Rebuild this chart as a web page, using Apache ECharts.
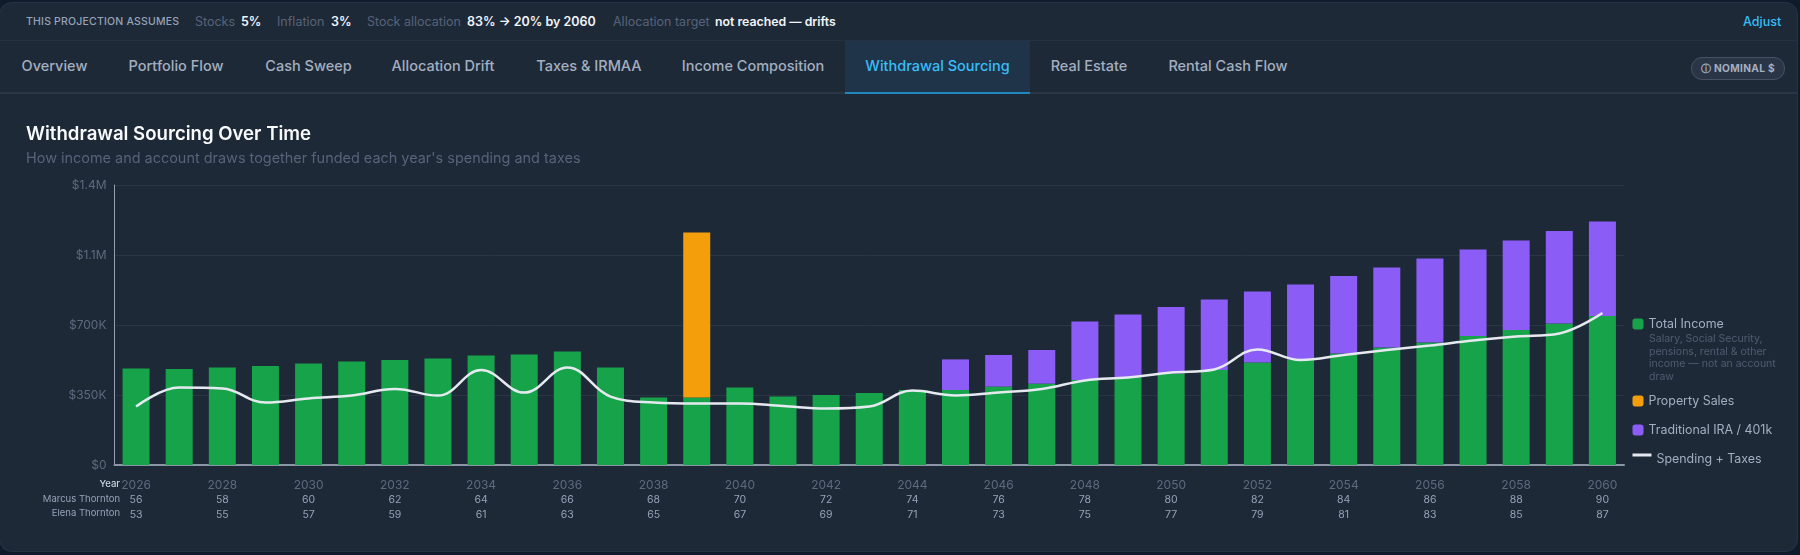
<!DOCTYPE html>
<html>
<head>
<meta charset="utf-8">
<title>Withdrawal Sourcing</title>
<script src="https://cdn.jsdelivr.net/npm/echarts@6/dist/echarts.min.js"></script>
<style>
  html, body { margin: 0; padding: 0; width: 1800px; height: 555px; overflow: hidden; background: #0f1a2b; font-family: Inter, sans-serif; }
  .card { position: absolute; left: 0; top: 3px; width: 1797px; height: 548px; background: #1e2937; border-radius: 12px; overflow: hidden; box-shadow: 0 0 0 1px #263244; }
  .assume { position: absolute; left: 0; top: 0; width: 100%; height: 37px; border-bottom: 1px solid #263243; font-size: 12.5px; line-height: 37px; white-space: nowrap; }
  .assume span { position: absolute; top: 0; }
  .assume .head { font-size: 10.5px; font-weight: 500; color: #94a3b8; letter-spacing: .2px; }
  .assume .lab { color: #56637a; }
  .assume .val { color: #f1f5f9; font-weight: 600; }
  .assume .adjust { color: #38bdf8; font-weight: 500; }
  .tabs { position: absolute; left: 0; top: 38px; width: 100%; height: 51px; border-bottom: 2px solid #2a3545; }
  .tab { position: absolute; top: 0; height: 51px; line-height: 50px; font-size: 14.5px; font-weight: 500; color: #a3afc0; text-align: center; }
  .tab.active { color: #38bdf8; background: #1f3448; height: 51px; border-bottom: 2px solid #2187bd; }
  .pill { position: absolute; left: 1691px; top: 16px; width: 92px; height: 21px; border: 1px solid #465264; border-radius: 11px; background: #2a3646; color: #a3afc0; font-size: 10.2px; font-weight: 700; line-height: 21px; text-align: center; letter-spacing: .3px; }
  h1 { position: absolute; left: 26px; top: 121px; margin: 0; font-size: 18.6px; line-height: 24px; font-weight: 600; color: #f8fafc; }
  .sub { position: absolute; left: 26px; top: 149px; font-size: 14.45px; line-height: 18px; color: #56637a; }
  #chart { position: absolute; left: 0; top: 0; width: 1800px; height: 555px; }
</style>
</head>
<body>
<div class="card">
  <div class="assume">
    <span class="head" style="left:26px">THIS PROJECTION ASSUMES</span>
    <span class="lab" style="left:195px">Stocks</span><span class="val" style="left:241px">5%</span>
    <span class="lab" style="left:277px">Inflation</span><span class="val" style="left:331px">3%</span>
    <span class="lab" style="left:367px">Stock allocation</span><span class="val" style="left:467px">83% → 20% by 2060</span>
    <span class="lab" style="left:613px">Allocation target</span><span class="val" style="left:715px;font-size:12.3px">not reached — drifts</span>
    <span class="adjust" style="left:1743px">Adjust</span>
  </div>
  <div class="tabs" id="tabs">
    <div class="pill">ⓘ NOMINAL $</div>
  </div>
</div>
<div id="chart"></div>
<h1>Withdrawal Sourcing Over Time</h1>
<div class="sub">How income and account draws together funded each year's spending and taxes</div>
<script>
const years = [2026,2027,2028,2029,2030,2031,2032,2033,2034,2035,2036,2037,2038,2039,2040,2041,2042,2043,2044,2045,2046,2047,2048,2049,2050,2051,2052,2053,2054,2055,2056,2057,2058,2059,2060];
const marcusAges = [56,57,58,59,60,61,62,63,64,65,66,67,68,69,70,71,72,73,74,75,76,77,78,79,80,81,82,83,84,85,86,87,88,89,90];
const elenaAges = [53,54,55,56,57,58,59,60,61,62,63,64,65,66,67,68,69,70,71,72,73,74,75,76,77,78,79,80,81,82,83,84,85,86,87];

// values in $K
const totalIncome = [483,480,487,495,508,517,525,533,547,553,567,488,338,337,387,342,350,360,375,375,392,407,425,438,458,475,512,528,558,587,613,645,675,708,745];
const propertySales = [0,0,0,0,0,0,0,0,0,0,0,0,0,826,0,0,0,0,0,0,0,0,0,0,0,0,0,0,0,0,0,0,0,0,0];
const traditionalIra = [0,0,0,0,0,0,0,0,0,0,0,0,0,0,0,0,0,0,0,153,158,168,292,315,332,353,355,375,387,401,419,432,448,462,472];
const spendingTaxes = [292,387,383,312,333,347,380,347,475,362,488,342,313,308,308,295,282,292,372,348,363,380,423,438,462,478,578,525,550,575,597,622,642,658,760];

const yTicks = { 0: "$0", 350: "$350K", 700: "$700K", 1050: "$1.1M", 1400: "$1.4M" };

const tabNames = [
  ["Overview", 0, 109],
  ["Portfolio Flow", 109, 134],
  ["Cash Sweep", 245, 127],
  ["Allocation Drift", 370, 146],
  ["Taxes & IRMAA", 516, 146],
  ["Income Composition", 661, 184],
  ["Withdrawal Sourcing", 845, 185],
  ["Real Estate", 1030, 118],
  ["Rental Cash Flow", 1148, 160],
];
const tabsEl = document.getElementById("tabs");
tabNames.forEach(([name, left, width]) => {
  const el = document.createElement("div");
  el.className = name === "Withdrawal Sourcing" ? "tab active" : "tab";
  el.textContent = name;
  el.style.left = left + "px";
  el.style.width = width + "px";
  tabsEl.appendChild(el);
});

const chart = echarts.init(document.getElementById("chart"));

function legendItem(name, top, extra) {
  return Object.assign({
    data: [name],
    left: 1627.5,
    top,
    orient: "vertical",
    selectedMode: false,
    itemWidth: 11,
    itemHeight: 11,
    icon: "roundRect",
    textStyle: { color: "#a3afc0", fontSize: 12.4, fontFamily: "Inter" },
  }, extra);
}

function rowLabel(text, y, color, weight) {
  return {
    type: "text",
    x: 120,
    y,
    style: { text, fill: color, fontSize: 9.5, fontWeight: weight, fontFamily: "Inter", textAlign: "right", textVerticalAlign: "middle" },
  };
}

chart.setOption({
  animation: false,
  textStyle: { fontFamily: "Inter" },
  grid: { left: 114.5, right: 176, top: 185, bottom: 90 },
  xAxis: {
    type: "category",
    data: years,
    axisTick: { show: false },
    axisLine: { lineStyle: { color: "#8b95a5", width: 2 } },
    axisLabel: {
      interval: 1,
      margin: 13,
      hideOverlap: false,
      formatter: (value, idx) => `{y|${value}}\n{a|${marcusAges[idx]}}\n{a|${elenaAges[idx]}}`,
      rich: {
        y: { color: "#5d6a7e", fontSize: 12, lineHeight: 15, fontFamily: "Inter" },
        a: { color: "#94a3b8", fontSize: 10.5, lineHeight: 14.5, fontFamily: "Inter" },
      },
    },
  },
  yAxis: {
    type: "value",
    min: 0,
    max: 1400,
    interval: 350,
    axisLine: { show: true, lineStyle: { color: "#94a0b2", width: 1 } },
    axisTick: { show: false },
    splitLine: { lineStyle: { color: "#2a3545", width: 1 } },
    axisLabel: { color: "#5d6a7e", fontSize: 12, margin: 8, formatter: (v) => yTicks[v] },
  },
  legend: [
    legendItem("Total Income", 313),
    legendItem("Property Sales", 390),
    legendItem("Traditional IRA / 401k", 419),
    // line sits above the label's centre, so the icon box is padded downwards
    legendItem("Spending + Taxes", 448, { itemWidth: 19, icon: "path://M0 0H19V3H0ZM0 11H0.01V11.01H0Z" }),
  ],
  graphic: [
    rowLabel("Year", 484, "#cbd5e1", 500),
    rowLabel("Marcus Thornton", 499, "#94a3b8", 400),
    rowLabel("Elena Thornton", 513, "#94a3b8", 400),
    {
      type: "text",
      x: 1649,
      y: 333,
      style: {
        text: "Salary, Social Security,\npensions, rental & other\nincome — not an account\ndraw",
        fill: "#4f5c70",
        fontSize: 10.5,
        lineHeight: 12.4,
        fontFamily: "Inter",
      },
    },
  ],
  series: [
    { name: "Total Income", type: "bar", stack: "src", barWidth: 27, itemStyle: { color: "#16a34a" }, data: totalIncome },
    { name: "Property Sales", type: "bar", stack: "src", barWidth: 27, itemStyle: { color: "#f59e0b" }, data: propertySales },
    { name: "Traditional IRA / 401k", type: "bar", stack: "src", barWidth: 27, itemStyle: { color: "#8b5cf6" }, data: traditionalIra },
    {
      name: "Spending + Taxes",
      type: "line",
      smooth: 0.4,
      showSymbol: false,
      z: 5,
      lineStyle: { color: "#e6eaf0", width: 2.5 },
      itemStyle: { color: "#e6eaf0" },
      data: spendingTaxes,
    },
  ],
});
</script>
</body>
</html>
